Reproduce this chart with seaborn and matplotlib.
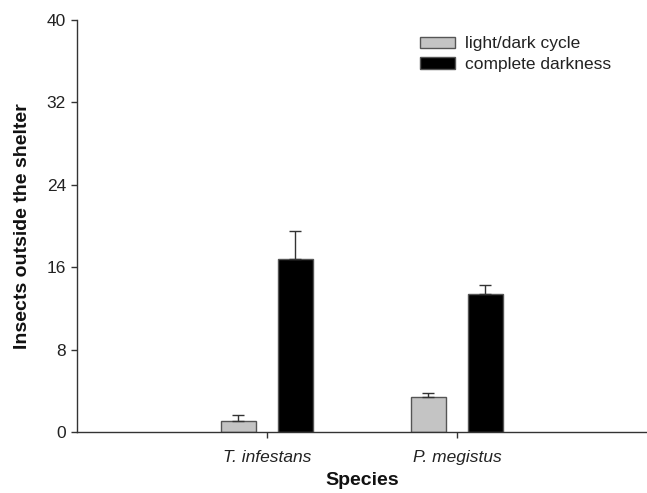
import matplotlib
matplotlib.use("Agg")
import matplotlib.pyplot as plt
import seaborn as sns
import pandas as pd

species = ["T. infestans", "P. megistus"]
conditions = ["light/dark cycle", "complete darkness"]
light_dark_mean = [1.1, 3.4]
light_dark_err = [0.55, 0.35]
darkness_mean = [16.8, 13.4]
darkness_err = [2.7, 0.9]
yticks = [0, 8, 16, 24, 32, 40]

df = pd.DataFrame({
    "Species": species * 2,
    "Condition": [conditions[0]] * 2 + [conditions[1]] * 2,
    "Value": light_dark_mean + darkness_mean,
})
errs = {conditions[0]: light_dark_err, conditions[1]: darkness_err}

sns.set_theme(style="ticks")
plt.rcParams["font.family"] = ["Liberation Sans", "DejaVu Sans"]

fig = plt.figure(figsize=(6.47, 4.93), dpi=100)
ax = fig.add_axes([0.119, 0.1237, 0.881, 0.8357])

sns.barplot(data=df, x="Species", y="Value", hue="Condition",
            order=species, hue_order=conditions,
            palette=["#c4c4c4", "#000000"], width=0.6, gap=0.4,
            errorbar=None, edgecolor="#555555", linewidth=1.0, ax=ax)

for cont, cond in zip(ax.containers, conditions):
    xs = [p.get_x() + p.get_width() / 2 for p in cont.patches]
    ys = [p.get_height() for p in cont.patches]
    ax.errorbar(xs, ys, yerr=[[0] * len(ys), errs[cond]], fmt="none",
                ecolor="#333333", elinewidth=1.0, capsize=4.3, capthick=1.0,
                zorder=1)

ax.set_xlim(-1.0, 2.0)
ax.set_ylim(0, 40)
ax.set_yticks(yticks)
ax.set_yticklabels([str(t) for t in yticks], fontsize=12.5, color="#222222")
for lab in ax.get_xticklabels():
    lab.set_fontstyle("italic")
    lab.set_fontsize(12.5)
    lab.set_color("#222222")
ax.tick_params(axis="both", direction="out", length=4, width=1, color="#333333", pad=4)
ax.tick_params(axis="x", pad=9)

ax.set_xlabel("Species", fontsize=14, fontweight="bold", labelpad=5, color="#111111")
ax.set_ylabel("Insects outside the shelter", fontsize=14, fontweight="bold",
              labelpad=11, color="#111111")

for s in ["top", "right"]:
    ax.spines[s].set_visible(False)
for s in ["left", "bottom"]:
    ax.spines[s].set_color("#333333")
    ax.spines[s].set_linewidth(1.0)

leg = ax.legend(loc="upper left", bbox_to_anchor=(0.601, 0.96), frameon=False,
                fontsize=12.5, handlelength=2.05, handleheight=0.62,
                handletextpad=0.55, labelspacing=0.32, borderpad=0, borderaxespad=0)
for h in leg.legend_handles:
    h.set_edgecolor("#555555")
for t in leg.get_texts():
    t.set_color("#222222")

fig.savefig("out.png", dpi=100)
